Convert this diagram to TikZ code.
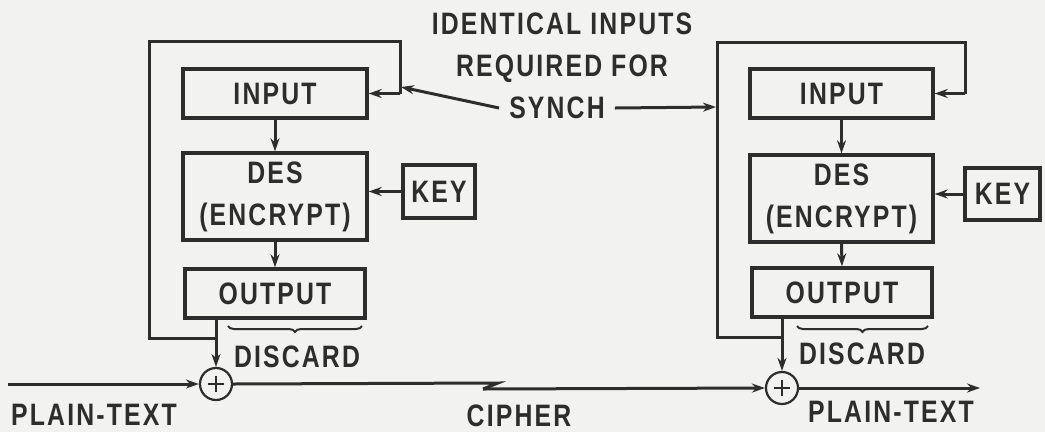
\documentclass[tikz,border=0pt]{standalone}
\usepackage{fontspec}
\setmainfont[FakeStretch=0.8,LetterSpace=7]{Liberation Sans}
\usetikzlibrary{arrows.meta,decorations.pathreplacing,calc}
\definecolor{ink}{RGB}{45,45,45}
\definecolor{bg}{RGB}{242,242,240}
\begin{document}
\begin{tikzpicture}[x=1bp,y=-1bp,
  every node/.style={font=\fontsize{31bp}{42bp}\selectfont\bfseries, text=ink},
  blk/.style={draw=ink, line width=3.4bp, inner sep=0pt, align=center},
  wire/.style={draw=ink, line width=3bp},
  arr/.style={wire, -{Stealth[length=13bp,width=9bp]}},
  xor/.style={circle, draw=ink, line width=2.2bp, minimum size=32bp, inner sep=0pt},
  lbl/.style={inner sep=0pt, align=center},
  brc/.style={draw=ink, line width=2bp, decorate, decoration={brace, mirror, amplitude=6bp}}]

\fill[bg] (0,0) rectangle (1045,432);
\useasboundingbox (0,0) rectangle (1045,432);

% ---------- left unit ----------
\node[blk, minimum width=184bp, minimum height=49bp] (in1) at (275,93.5) {INPUT};
\node[blk, minimum width=184bp, minimum height=87bp] (des1) at (275,196.5) {DES\\(ENCRYPT)};
\node[blk, minimum width=180bp, minimum height=49bp] (out1) at (275,293.5) {OUTPUT};
\node[blk, minimum width=72bp, minimum height=53bp] (key1) at (439,191.5) {KEY};
\node[xor] (x1) at (216,384) {};
\draw[ink, line width=2.2bp] ($(x1.center)+(-8,0)$) -- ($(x1.center)+(8,0)$)
  ($(x1.center)+(0,-8)$) -- ($(x1.center)+(0,8)$);

\draw[arr] (in1.south) -- (des1.north);
\draw[arr] (des1.south) -- (out1.north);
\draw[arr] (key1.west) -- (key1.west -| des1.east);
\draw[arr] (x1 |- out1.south) -- (x1.north);

\coordinate (j1) at (216,338);
\coordinate (l1a) at (149,338);
\coordinate (l1b) at (149,41);
\coordinate (l1c) at (400,41);
\draw[wire] (j1) -- (l1a) -- (l1b) -- (l1c) -- (400,93.5);
\draw[arr] (400,93.5) -- (in1.east);

\draw[brc] (228,326) -- (362,326);
\node[lbl] (disc1) at (297,357) {DISCARD};

% ---------- right unit ----------
\node[blk, minimum width=183bp, minimum height=49bp] (in2) at (841.5,93.5) {INPUT};
\node[blk, minimum width=183bp, minimum height=87bp] (des2) at (841.5,198.5) {DES\\(ENCRYPT)};
\node[blk, minimum width=180bp, minimum height=49bp] (out2) at (842,292.5) {OUTPUT};
\node[blk, minimum width=75bp, minimum height=52bp] (key2) at (1002.5,194) {KEY};
\node[xor] (x2) at (782,388) {};
\draw[ink, line width=2.2bp] ($(x2.center)+(-8,0)$) -- ($(x2.center)+(8,0)$)
  ($(x2.center)+(0,-8)$) -- ($(x2.center)+(0,8)$);

\draw[arr] (in2.south) -- (des2.north);
\draw[arr] (des2.south) -- (out2.north);
\draw[arr] (key2.west) -- (key2.west -| des2.east);
\draw[arr] (x2 |- out2.south) -- (x2.north);

\coordinate (j2) at (782,337);
\coordinate (l2a) at (717,337);
\coordinate (l2b) at (717,42);
\coordinate (l2c) at (965,42);
\draw[wire] (j2) -- (l2a) -- (l2b) -- (l2c) -- (965,93.5);
\draw[arr] (965,93.5) -- (in2.east);

\draw[brc] (797,326) -- (928,326);
\node[lbl] (disc2) at (862,354) {DISCARD};

% ---------- sync note ----------
\node[lbl] (note) at (562,48) {IDENTICAL INPUTS\\REQUIRED FOR};
\node[lbl] (synch) at (557,108) {SYNCH};
\coordinate (s1) at (401,87);
\coordinate (s2) at (716,107);
\draw[arr] ($(synch.west)+(-10,0)$) -- (s1);
\draw[arr] ($(synch.east)+(10,0)$) -- (s2);

% ---------- data path ----------
\coordinate (pin) at (8,384);
\coordinate (pout) at (980,388);
\coordinate (zz1) at (498,383);
\coordinate (zz2) at (483,389);
\draw[arr] (pin) -- (x1.west);
\draw[wire] (x1.east) -- (zz1) -- (zz2);
\draw[arr] (zz2) -- (x2.west);
\draw[arr] (x2.east) -- (pout);

\node[lbl] (pt1) at (94,415) {PLAIN-TEXT};
\node[lbl] (ciph) at (519,416) {CIPHER};
\node[lbl] (pt2) at (891,412) {PLAIN-TEXT};
\end{tikzpicture}
\end{document}
